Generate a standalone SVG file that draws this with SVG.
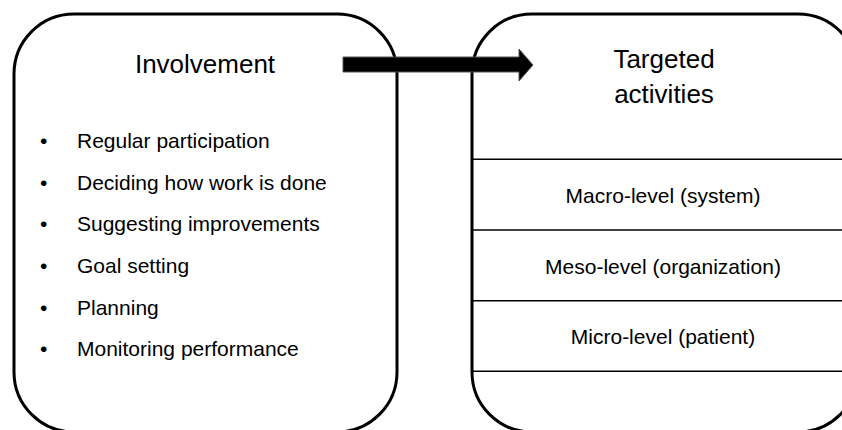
<svg xmlns="http://www.w3.org/2000/svg" width="842" height="430" viewBox="0 0 842 430">
<style>
.box{fill:#fff;stroke:#000;stroke-width:3}
.div{stroke:#000;stroke-width:1.5}
text{font-family:"Liberation Sans",Arial,sans-serif;fill:#000}
.title{font-size:26px;text-anchor:middle}
.item{font-size:21px}
.lvl{font-size:21px;text-anchor:middle}
.arrow{fill:#000;stroke:#555;stroke-width:1}
</style>
<rect width="842" height="430" fill="#fff"/>
<g id="involvement">
<rect class="box" x="14" y="14" width="383" height="418" rx="60" ry="60"/>
<text class="title" x="205" y="73">Involvement</text>
<g class="item">
<text class="item" x="40" y="148">•</text><text class="item" x="77" y="148">Regular participation</text>
<text class="item" x="40" y="189.7">•</text><text class="item" x="77" y="189.7">Deciding how work is done</text>
<text class="item" x="40" y="231.3">•</text><text class="item" x="77" y="231.3">Suggesting improvements</text>
<text class="item" x="40" y="273">•</text><text class="item" x="77" y="273">Goal setting</text>
<text class="item" x="40" y="314.7">•</text><text class="item" x="77" y="314.7">Planning</text>
<text class="item" x="40" y="356.3">•</text><text class="item" x="77" y="356.3">Monitoring performance</text>
</g>
</g>
<g id="targeted-activities">
<rect class="box" x="472" y="14" width="386" height="418" rx="60" ry="60"/>
<text class="title" x="664" y="68">Targeted</text>
<text class="title" x="664" y="103">activities</text>
<line class="div" x1="473" y1="159.3" x2="858" y2="159.3"/>
<line class="div" x1="473" y1="230" x2="858" y2="230"/>
<line class="div" x1="473" y1="300.7" x2="858" y2="300.7"/>
<line class="div" x1="473" y1="371.3" x2="858" y2="371.3"/>
<text class="lvl" x="663" y="203">Macro-level (system)</text>
<text class="lvl" x="663" y="273.5">Meso-level (organization)</text>
<text class="lvl" x="663" y="344">Micro-level (patient)</text>
</g>
<g id="connectors">
<polygon class="arrow" points="343,57 519,57 519,49 533,65 519,81 519,72 343,72"/>
</g>
</svg>
